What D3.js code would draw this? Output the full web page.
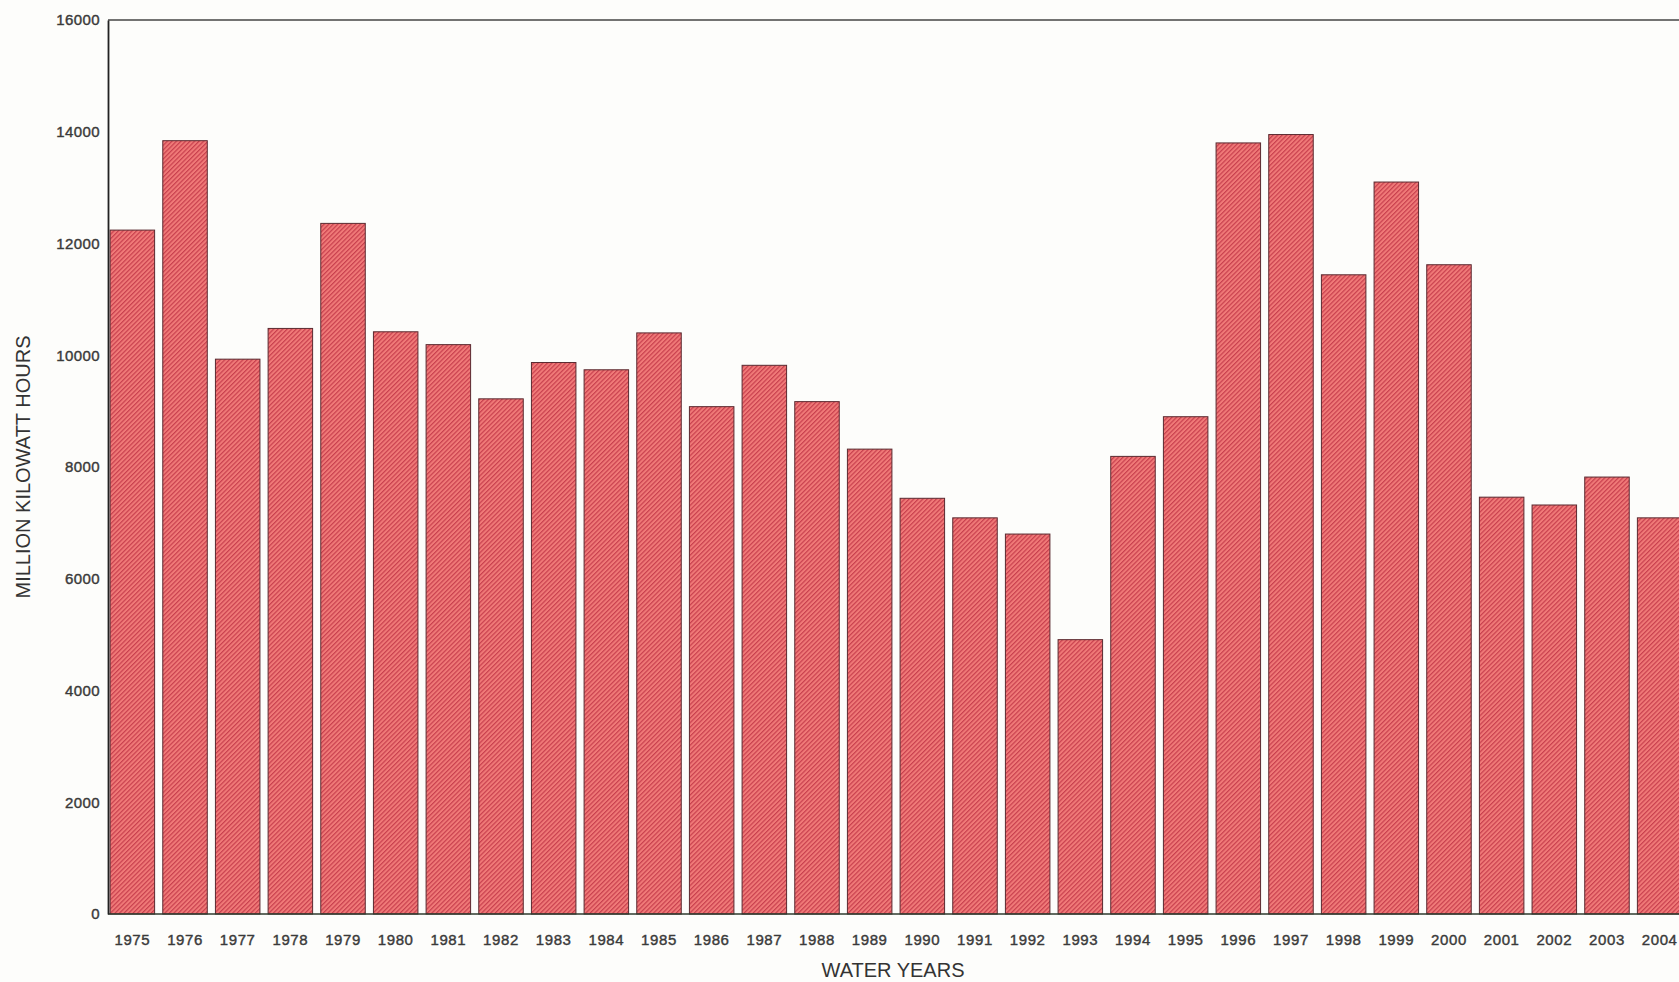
<!DOCTYPE html>
<html>
<head>
<meta charset="utf-8">
<script src="https://cdn.jsdelivr.net/npm/d3@7"></script>
<style>
  html, body { margin: 0; padding: 0; background: #fdfdfb; }
  svg { display: block; }
  text { font-family: "Liberation Sans", Arial, sans-serif; fill: #333; }
</style>
</head>
<body>
<svg id="chart" width="1679" height="982"></svg>
<script>
const years = ["1975","1976","1977","1978","1979","1980","1981","1982","1983","1984",
               "1985","1986","1987","1988","1989","1990","1991","1992","1993","1994",
               "1995","1996","1997","1998","1999","2000","2001","2002","2003","2004"];
const generation = [12240, 13840, 9930, 10480, 12360, 10420, 10190, 9220, 9870, 9740,
                    10400, 9080, 9820, 9170, 8320, 7440, 7090, 6800, 4910, 8190,
                    8900, 13800, 13950, 11440, 13100, 11620, 7460, 7320, 7820, 7090];
const yTicks = [0, 2000, 4000, 6000, 8000, 10000, 12000, 14000, 16000];
const xTitle = "WATER YEARS";
const yTitle = "MILLION KILOWATT HOURS";

const svg = d3.select("#chart");
const mLeft = 108, mRight = 1684, mTop = 20, mBottom = 914;

const defs = svg.append("defs");
const pat = defs.append("pattern")
  .attr("id", "hatch").attr("patternUnits", "userSpaceOnUse")
  .attr("width", 3.2).attr("height", 3.2)
  .attr("patternTransform", "rotate(45)");
pat.append("rect").attr("width", 3.2).attr("height", 3.2).attr("fill", "#f07a78");
pat.append("rect").attr("width", 1.2).attr("height", 3.2).attr("fill", "#c8404e");

const x = d3.scaleBand().domain(years).range([mLeft, mRight])
  .paddingInner(0.155).paddingOuter(0.04);
const y = d3.scaleLinear().domain([0, 16000]).range([mBottom, mTop]);

// bars
svg.append("g").selectAll("rect").data(years).join("rect")
  .attr("x", d => x(d))
  .attr("y", (d, i) => y(generation[i]))
  .attr("width", x.bandwidth())
  .attr("height", (d, i) => y(0) - y(generation[i]))
  .attr("fill", "url(#hatch)")
  .attr("stroke", "#5a2a30")
  .attr("stroke-width", 1);

// frame lines
svg.append("line").attr("x1", mLeft).attr("x2", 1679).attr("y1", mTop).attr("y2", mTop)
  .attr("stroke", "#444").attr("stroke-width", 1.6);
svg.append("line").attr("x1", mLeft).attr("x2", 1679).attr("y1", mBottom).attr("y2", mBottom)
  .attr("stroke", "#2e3a2e").attr("stroke-width", 1.6);

// y axis
const yAxis = svg.append("g").attr("transform", `translate(${mLeft},0)`)
  .call(d3.axisLeft(y).tickValues(yTicks).tickSize(0).tickPadding(8).tickFormat(d3.format("d")));
yAxis.select(".domain").attr("stroke", "#222").attr("stroke-width", 1.8);
yAxis.selectAll("text").style("font-size", "15px").style("letter-spacing", "0.4px")
  .style("fill", "#3a3a3a").style("stroke", "#3a3a3a").style("stroke-width", "0.4px");

// x axis
const xAxis = svg.append("g").attr("transform", `translate(0,${mBottom})`)
  .call(d3.axisBottom(x).tickSize(0).tickPadding(20));
xAxis.select(".domain").remove();
xAxis.selectAll("text").style("font-size", "15px").style("letter-spacing", "0.6px")
  .style("fill", "#3a3a3a").style("stroke", "#3a3a3a").style("stroke-width", "0.4px");

// titles
svg.append("text").attr("x", 893).attr("y", 977).attr("text-anchor", "middle")
  .style("font-size", "20px").style("fill", "#333").text(xTitle);
svg.append("text").attr("transform", "translate(30,467) rotate(-90)").attr("text-anchor", "middle")
  .style("font-size", "20px").style("fill", "#333").text(yTitle);
</script>
</body>
</html>
